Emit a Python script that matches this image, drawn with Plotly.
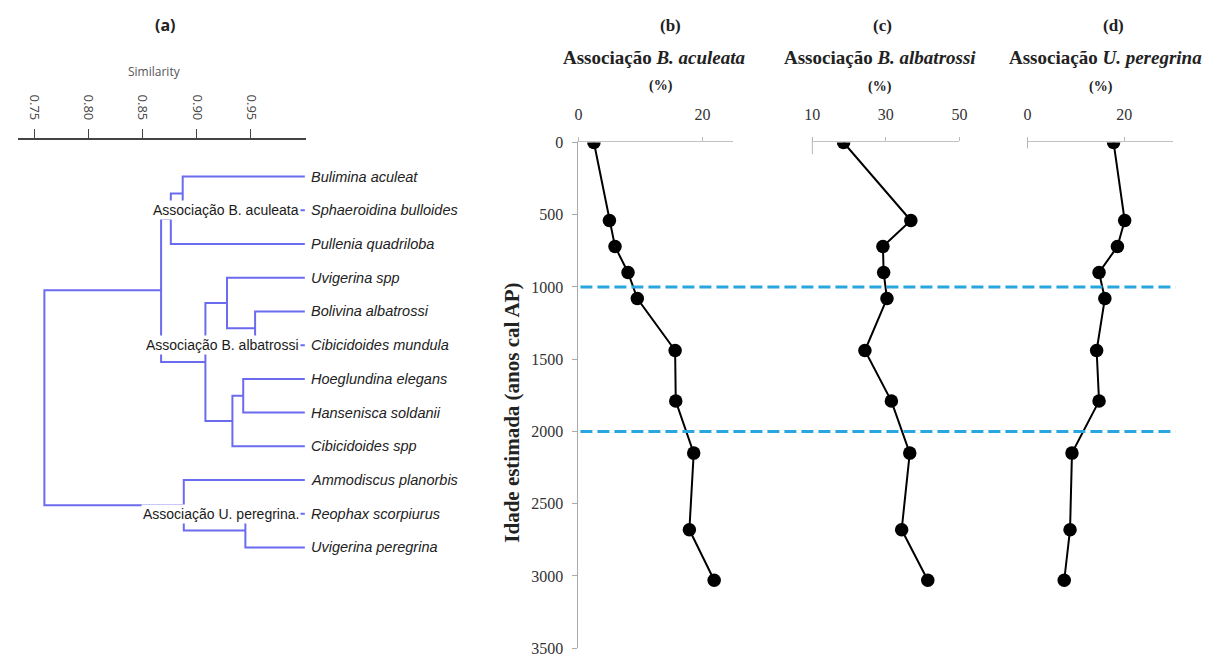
import plotly.graph_objects as go

# ---------------- data ----------------
leaves = ["Bulimina aculeat", "Sphaeroidina bulloides", "Pullenia quadriloba",
          "Uvigerina spp", "Bolivina albatrossi", "Cibicidoides mundula",
          "Hoeglundina elegans", "Hansenisca soldanii", "Cibicidoides spp",
          "Ammodiscus planorbis", "Reophax scorpiurus", "Uvigerina peregrina"]
# merges: (child_a, child_b, similarity); new node ids start at 12
merges = [(0, 1, 0.887), (12, 2, 0.876), (4, 5, 0.954), (3, 14, 0.928),
          (6, 7, 0.943), (16, 8, 0.933), (15, 17, 0.908), (13, 18, 0.867),
          (10, 11, 0.945), (9, 20, 0.888), (19, 21, 0.759)]
group_labels = ["Associação B. aculeata", "Associação B. albatrossi", "Associação U. peregrina."]
group_rows = [1, 5, 10]
sim_ticks = [0.75, 0.80, 0.85, 0.90, 0.95]

ages = [0, 540, 720, 900, 1080, 1440, 1790, 2150, 2680, 3030]
b_aculeata = [2.5, 5.0, 5.9, 8.0, 9.5, 15.6, 15.7, 18.6, 17.9, 21.9]
b_albatrossi = [18.5, 36.8, 29.2, 29.4, 30.3, 24.3, 31.5, 36.5, 34.3, 41.4]
u_peregrina = [17.8, 20.1, 18.6, 14.8, 16.0, 14.3, 14.8, 9.2, 8.8, 7.6]
boundaries = [1000, 2000]
age_ticks = [0, 500, 1000, 1500, 2000, 2500, 3000, 3500]

# ---------------- helpers ----------------
W, H = 1223, 666
DY = 3
def px(x): return x / W
def py(y): return 1 - (y - DY) / H

SERIF = "Liberation Serif, Times New Roman, serif"
SANS = "Liberation Sans, Arial, sans-serif"
DCOL = "#6b6bef"

fig = go.Figure()

# ---------------- dendrogram ----------------
pos = {i: (1.0, float(i)) for i in range(len(leaves))}
xs, ys = [], []
for k, (a, b, h) in enumerate(merges):
    xa, ya = pos[a]
    xb, yb = pos[b]
    xs += [xa, h, h, xb, None]
    ys += [ya, ya, yb, yb, None]
    pos[len(leaves) + k] = (h, (ya + yb) / 2)
fig.add_trace(go.Scatter(x=xs, y=ys, mode="lines", line=dict(color=DCOL, width=2),
                         xaxis="x", yaxis="y", showlegend=False, hoverinfo="skip"))

for i, name in enumerate(leaves):
    fig.add_annotation(x=px(305), y=i, xref="paper", yref="y", text="<i>%s</i>" % name,
                       showarrow=False, xanchor="left", yanchor="middle",
                       font=dict(family=SANS, size=14.5, color="#222"))
for lab, r in zip(group_labels, group_rows):
    fig.add_annotation(x=px(297), y=r, xref="paper", yref="y", text=lab, showarrow=False,
                       xanchor="right", yanchor="middle", bgcolor="white", borderpad=1,
                       font=dict(family="Liberation Sans Narrow, " + SANS, size=14, color="#1a1a1a"))

# ---------------- profiles ----------------
for xa, vals in (("x2", b_aculeata), ("x3", b_albatrossi), ("x4", u_peregrina)):
    fig.add_trace(go.Scatter(x=vals, y=ages, mode="lines+markers", xaxis=xa, yaxis="y2",
                             line=dict(color="black", width=2),
                             marker=dict(color="black", size=13.5),
                             showlegend=False))

for bnd in boundaries:
    fig.add_shape(type="line", xref="paper", yref="y2", x0=px(580), x1=px(1183),
                  y0=bnd, y1=bnd, line=dict(color="#29a6e0", width=3, dash="12px,5px"))

# small left stubs of panels (c) and (d)
for x0, y0, y1 in ((815, 136, 153), (1033, 137, 147)):
    fig.add_shape(type="line", xref="paper", yref="paper", x0=px(x0), x1=px(x0),
                  y0=py(y0), y1=py(y1), line=dict(color="#b5b5b5", width=1))

# ---------------- axes ----------------
xtop = dict(side="top", showline=True, linecolor="#c2c2c2", linewidth=1, ticks="outside",
            ticklen=4, tickcolor="#bbbbbb", showgrid=False, zeroline=False,
            tickfont=dict(family=SERIF, size=16, color="#333"), ticklabelstandoff=11,
            fixedrange=True)
fig.update_layout(
    width=W, height=H, margin=dict(l=0, r=0, t=0, b=0),
    paper_bgcolor="white", plot_bgcolor="white",
    xaxis=dict(domain=[px(10), px(302)], range=[0.73447, 1.00114], anchor="y", side="top",
               tickvals=sim_ticks, ticktext=["%.2f" % t for t in sim_ticks], tickangle=90,
               ticks="outside", ticklen=9, tickcolor="#444", showline=True, linecolor="#444",
               linewidth=1.5, showgrid=False, zeroline=False, ticklabelstandoff=4,
               tickfont=dict(family="Open Sans, " + SANS, size=13, color="#444")),
    yaxis=dict(domain=[py(600), py(138)], range=[12.254, -1.098], visible=False),
    xaxis2=dict(xtop, domain=[px(578), px(735)], range=[0, 25], anchor="y2", tickvals=[0, 20]),
    xaxis3=dict(xtop, domain=[px(815), px(964)], range=[10, 50], anchor="y2", tickvals=[10, 30, 50]),
    xaxis4=dict(xtop, domain=[px(1033), px(1180)], range=[0, 30], anchor="y2", tickvals=[0, 20]),
    yaxis2=dict(domain=[py(660), py(141)], range=[3500.5, 0], anchor="x2", tickvals=age_ticks,
                showline=True, linecolor="#aaaaaa", ticks="outside", ticklen=5, tickcolor="#aaa",
                showgrid=False, zeroline=False, ticklabelstandoff=6, ticklabeloverflow="allow",
                tickfont=dict(family=SERIF, size=16, color="#333")),
)

# ---------------- titles ----------------
def note(x, y, text, size, family=SERIF, color="#222", angle=0):
    fig.add_annotation(x=px(x), y=py(y), xref="paper", yref="paper", text=text,
                       showarrow=False, xanchor="center", yanchor="middle", textangle=angle,
                       font=dict(family=family, size=size, color=color))

note(160, 20, "<b>(a)</b>", 16, family="Open Sans, " + SANS)
note(148, 68, "Similarity", 12, family="Open Sans, " + SANS, color="#555")
note(671, 21, "<b>(b)</b>", 17)
note(655, 54, "<b>Associação <i>B. aculeata</i></b>", 19)
note(662, 83, "<b>(%)</b>", 14)
note(886, 21, "<b>(c)</b>", 17)
note(884, 54, "<b>Associação <i>B. albatrossi</i></b>", 19)
note(884, 84, "<b>(%)</b>", 14)
note(1120, 21, "<b>(d)</b>", 17)
note(1112, 54, "<b>Associação <i>U. peregrina</i></b>", 19)
note(1107, 84, "<b>(%)</b>", 14)
note(511, 418, "<b>Idade estimada (anos cal AP)</b>", 21, angle=-90)

fig.write_html("out.html", config={"displayModeBar": False}, post_script=(
    "document.body.style.margin='0';document.body.style.overflow='hidden';"
    "var d=document.getElementById('{plot_id}');d.style.position='fixed';"
    "d.style.left='0px';d.style.top='0px';"))
